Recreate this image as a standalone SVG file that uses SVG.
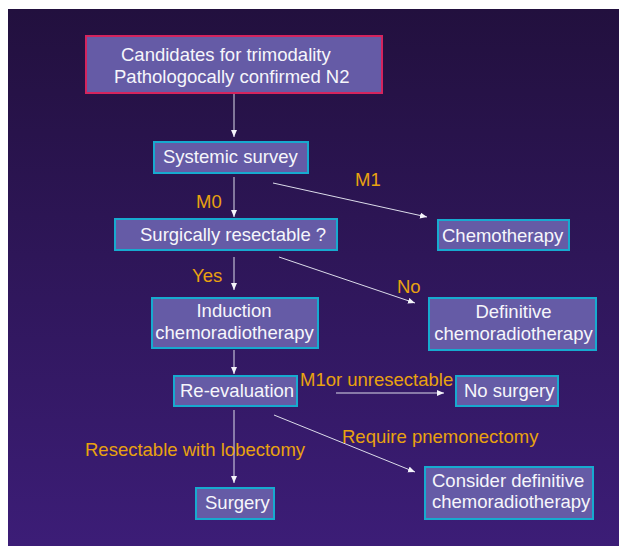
<svg xmlns="http://www.w3.org/2000/svg" width="619" height="546" viewBox="0 0 619 546">
<defs>
<linearGradient id="bg" x1="0" y1="0" x2="0" y2="1">
<stop offset="0" stop-color="#22103e"/>
<stop offset="1" stop-color="#3c1d77"/>
</linearGradient>
<marker id="ah" markerUnits="userSpaceOnUse" markerWidth="8" markerHeight="8" refX="7" refY="3" orient="auto">
<path d="M0,0 L7,3 L0,6 z" fill="#f4f4fa"/>
</marker>
<style>
.box{fill:#655ba6;stroke:#17aacf;stroke-width:2}
.red{stroke:#d4245e}
.t{font-family:"Liberation Sans",Arial,sans-serif;font-size:18.5px;fill:#f6f6fb}
.c{text-anchor:middle}
.lab{font-family:"Liberation Sans",Arial,sans-serif;font-size:18.5px;fill:#e9a20f}
.ln{stroke:#dcdcea;stroke-width:1;fill:none;marker-end:url(#ah)}
</style>
</defs>
<rect x="0" y="0" width="619" height="546" fill="#ffffff"/>
<rect x="8" y="9" width="611" height="537" fill="url(#bg)"/>
<g id="connectors">
<line class="ln" x1="234" y1="93" x2="234" y2="137"/>
<line class="ln" x1="234" y1="177" x2="234" y2="217"/>
<line class="ln" x1="273" y1="183" x2="427" y2="217"/>
<line class="ln" x1="234" y1="257" x2="234" y2="290"/>
<line class="ln" x1="279" y1="257" x2="415" y2="303"/>
<line class="ln" x1="234" y1="350" x2="234" y2="374"/>
<line class="ln" x1="336" y1="393" x2="444" y2="393"/>
<line class="ln" x1="234" y1="410" x2="234" y2="483"/>
<line class="ln" x1="274" y1="415" x2="415" y2="472"/>
</g>
<g id="labels">
<text class="lab" x="196" y="208">M0</text>
<text class="lab" x="355" y="186">M1</text>
<text class="lab" x="192" y="282">Yes</text>
<text class="lab" x="397" y="293">No</text>
<text class="lab" x="300" y="386">M1or unresectable</text>
<text class="lab" x="342" y="443">Require pnemonectomy</text>
<text class="lab" x="85" y="456">Resectable with lobectomy</text>
</g>
<g id="candidates">
<rect class="box red" x="86" y="36" width="296" height="57"/>
<text class="t" x="121" y="61">Candidates for trimodality</text>
<text class="t" x="114" y="83">Pathologocally confirmed N2</text>
</g>
<g id="systemic">
<rect class="box" x="154" y="142" width="154" height="31"/>
<text class="t" x="163" y="163">Systemic survey</text>
</g>
<g id="resectable">
<rect class="box" x="115" y="219" width="222" height="31"/>
<text class="t" x="140" y="241">Surgically resectable ?</text>
</g>
<g id="chemotherapy">
<rect class="box" x="438" y="220" width="131" height="30"/>
<text class="t" x="442" y="242">Chemotherapy</text>
</g>
<g id="definitive">
<rect class="box" x="429" y="298" width="167" height="52"/>
<text class="t c" x="513.5" y="318">Definitive</text>
<text class="t c" x="513.5" y="340">chemoradiotherapy</text>
</g>
<g id="induction">
<rect class="box" x="152" y="298" width="166" height="50"/>
<text class="t c" x="234" y="317">Induction</text>
<text class="t c" x="234.5" y="339">chemoradiotherapy</text>
</g>
<g id="reevaluation">
<rect class="box" x="174" y="376" width="123" height="30"/>
<text class="t" x="180" y="397">Re-evaluation</text>
</g>
<g id="nosurgery">
<rect class="box" x="456" y="376" width="102" height="30"/>
<text class="t" x="464" y="397">No surgery</text>
</g>
<g id="consider">
<rect class="box" x="425" y="467" width="168" height="52"/>
<text class="t" x="432" y="487">Consider definitive</text>
<text class="t" x="432" y="508">chemoradiotherapy</text>
</g>
<g id="surgery">
<rect class="box" x="196" y="488" width="78" height="31"/>
<text class="t" x="205" y="509">Surgery</text>
</g>
</svg>
